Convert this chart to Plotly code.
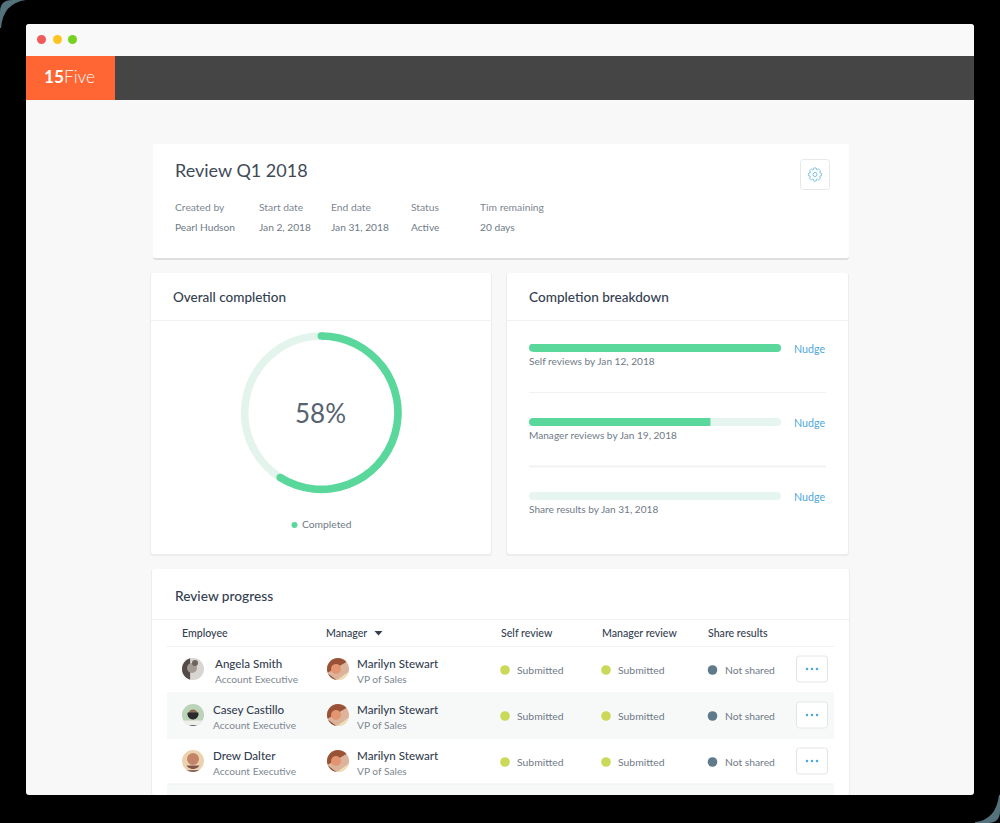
#!/usr/bin/python3
''' 15Five review dashboard, one page of cards drawn with plotly
'''
import math
import plotly.graph_objects as go

FONT = 'Lato'
INK = '#34404f'
GREY = '#6f7a86'
GREEN = '#5ad79b'
PALE = '#e6f5ef'
LIME = '#cbd958'
SLATE = '#5f7a8a'
BLUE = '#4fa8dc'

# Data
overall_label = '58%'
overall_done = 59
overall_rest = 41
breakdown_labels = ['Self reviews by Jan 12, 2018', 'Manager reviews by Jan 19, 2018', 'Share results by Jan 31, 2018']
breakdown_values = [100, 72, 0]
meta_labels = ['Created by', 'Start date', 'End date', 'Status', 'Tim remaining']
meta_values = ['Pearl Hudson', 'Jan 2, 2018', 'Jan 31, 2018', 'Active', '20 days']
table_headers = ['Employee', 'Manager', 'Self review', 'Manager review', 'Share results']
employees = ['Angela Smith', 'Casey Castillo', 'Drew Dalter']
employee_titles = ['Account Executive', 'Account Executive', 'Account Executive']
managers = ['Marilyn Stewart', 'Marilyn Stewart', 'Marilyn Stewart']
manager_titles = ['VP of Sales', 'VP of Sales', 'VP of Sales']
self_status = ['Submitted', 'Submitted', 'Submitted']
manager_status = ['Submitted', 'Submitted', 'Submitted']
share_status = ['Not shared', 'Not shared', 'Not shared']

# Layout of the page, in pixels
W, H = 1000, 823
RING = (321.3, 412.7, 80.5)
META_X = [175, 259, 331, 411, 480]
HEADER_X = [182, 326, 501, 602, 708]
ROW_Y = [669, 715, 761]
NAME_X = [215, 213, 213]
STATUS_X = [505, 606, 712.5]
BAR_Y = [347.8, 422, 496.1]

shapes = []
notes = []


def rect(x0, y0, x1, y1, fill, layer='below'):
    shapes.append(dict(type='rect', xref='x', yref='y', x0=x0, y0=y0, x1=x1, y1=y1,
                       fillcolor=fill, line_width=0, layer=layer))


def line(x0, y0, x1, y1, color='#eff1f2', width=1):
    shapes.append(dict(type='line', xref='x', yref='y', x0=x0, y0=y0, x1=x1, y1=y1,
                       line=dict(color=color, width=width), layer='below'))


def circle(cx, cy, r, fill, layer='below'):
    shapes.append(dict(type='circle', xref='x', yref='y', x0=cx-r, y0=cy-r, x1=cx+r, y1=cy+r,
                       fillcolor=fill, line_width=0, layer=layer))


def path(d, fill, outline=None, layer='below'):
    shapes.append(dict(type='path', xref='x', yref='y', path=d, fillcolor=fill,
                       line=dict(color=outline or fill, width=1 if outline else 0), layer=layer))


def rounded(x0, y0, x1, y1, r):
    return (f'M{x0+r},{y0} L{x1-r},{y0} Q{x1},{y0} {x1},{y0+r} L{x1},{y1-r} Q{x1},{y1} {x1-r},{y1} '
            f'L{x0+r},{y1} Q{x0},{y1} {x0},{y1-r} L{x0},{y0+r} Q{x0},{y0} {x0+r},{y0} Z')


def label(x, y, text, size=10, color=GREY, weight=400, anchor='left'):
    # the browser puts glyphs about a pixel right and low of the anchor
    notes.append(dict(x=x-1, y=y-0.8, xref='x', yref='y', text=text, showarrow=False, xanchor=anchor, yanchor='middle',
                      align=anchor, borderpad=0, font=dict(family=FONT, size=size, color=color, weight=weight)))


def card(x0, y0, x1, y1):
    path(rounded(x0-1, y0, x1+1, y1+2, 3), '#ececec')
    path(rounded(x0, y0, x1, y1, 2), '#ffffff')


def segment(cx, cy, r, a0, a1, fill):
    # chord segment of an avatar circle, angles in degrees clockwise from top
    pts = []
    for i in range(13):
        a = math.radians(a0 + (a1-a0)*i/12)
        pts.append(f'{cx+r*math.sin(a):.2f},{cy-r*math.cos(a):.2f}')
    path('M' + ' L'.join(pts) + ' Z', fill)


def avatar(cx, cy, kind):
    if kind == 'angela':
        circle(cx, cy, 11, '#d8d5d3')
        segment(cx, cy, 11, 195, 345, '#544a46')
        circle(cx-1, cy-1, 5, '#a59b95')
        circle(cx+2, cy-6, 3, '#6e635d')
    elif kind == 'casey':
        circle(cx, cy, 11, '#bcd3b8')
        segment(cx, cy, 11, 120, 240, '#eeeeea')
        circle(cx, cy-1, 4.5, '#8a6a54')
        segment(cx, cy-1, 5.5, 285, 75, '#2a2a2c')
        segment(cx, cy, 11, 160, 200, '#33383c')
    elif kind == 'drew':
        circle(cx, cy, 11, '#ebd3b2')
        circle(cx, cy-2, 6, '#c58468')
        segment(cx, cy, 8, 125, 235, '#84544a')
        segment(cx, cy, 11, 145, 215, '#8f6a60')
    else:
        circle(cx, cy, 11, '#dcb49c')
        segment(cx, cy, 11, 250, 410, '#9a5236')
        circle(cx-2, cy, 5, '#e39470')
        segment(cx, cy, 11, 105, 185, '#efe0b6')
        segment(cx, cy, 11, 190, 245, '#8a4a32')


def gear(cx, cy):
    pts = []
    for i in range(64):
        a = 2*math.pi*i/64
        r = 6.6 if math.cos(8*a) > -0.1 else 5.2
        pts.append(f'{cx+r*math.sin(a):.2f},{cy-r*math.cos(a):.2f}')
    shapes.append(dict(type='path', xref='x', yref='y', path='M' + ' L'.join(pts) + ' Z', fillcolor='rgba(0,0,0,0)',
                       line=dict(color='#7cc0e6', width=1), layer='below'))
    shapes.append(dict(type='circle', xref='x', yref='y', x0=cx-2, y0=cy-2, x1=cx+2, y1=cy+2,
                       fillcolor='rgba(0,0,0,0)', line=dict(color='#7cc0e6', width=1), layer='below'))


# Browser window
path(rounded(26, 24, 974, 795, 3), '#f8f8f8')
path('M26,56 L26,28 Q26,24 30,24 L970,24 Q974,24 974,28 L974,56 Z', '#f9f9f9')
rect(26, 56, 974, 100, '#454545')
rect(26, 56, 115, 100, '#ff6633')
circle(41.5, 39.5, 4.5, '#f05a5a')
circle(57.5, 39.5, 4.5, '#fdc521')
circle(72.5, 39.5, 4.5, '#76d21e')
label(44, 77.5, '<b>15</b>Five', 17.3, '#ffffff', 300)

# Review card
path(rounded(153, 144, 849, 260, 3), '#dedede')
path(rounded(153, 144, 849, 258, 2), '#ffffff')
label(175, 171, 'Review Q1 2018', 18, '#3f4a58')
for x, name, value in zip(META_X, meta_labels, meta_values):
    label(x, 208, name, 10.3, '#7d8791')
    label(x, 227.5, value, 10.2, GREY)
path(rounded(800.5, 159.5, 829.5, 189.5, 3), '#ffffff', '#e6e9ea')
gear(815, 174.5)

# Completion cards
card(151, 273, 491, 554)
card(507, 273, 848, 554)
line(151, 320.5, 491, 320.5)
line(507, 320.5, 848, 320.5)
label(173, 297.5, 'Overall completion', 13.5, INK, 500)
label(529, 297.5, 'Completion breakdown', 13.6, INK, 500)
label(321, 414, overall_label, 26, '#56626f', 400, 'center')
label(302, 525, 'Completed', 10.3, GREY)
line(529, 392.5, 826, 392.5)
line(529, 466.5, 826, 466.5, '#f1f2f3', 2)
for y, text in zip([362, 436, 510], breakdown_labels):
    label(529, y, text, 10.1, GREY)
for y in [349, 423, 497]:
    label(794, y, 'Nudge', 10.7, BLUE)

# Round ends of the ring
for frac in [0, overall_done/(overall_done+overall_rest)]:
    a = 2*math.pi*frac
    circle(RING[0]+76.8*math.sin(a), RING[1]-76.8*math.cos(a), 3.7, GREEN, 'above')

# Plotly only rounds the far end of a bar, so trim the near corners
for y in BAR_Y:
    path(f'M528.5,{y-4.5} L533,{y-4.5} L533,{y-4} Q529,{y-4} 529,{y} Q529,{y+4} 533,{y+4} L533,{y+4.5} L528.5,{y+4.5} Z',
         '#ffffff', layer='above')

# Review table
card(152, 569, 849, 795)
line(152, 619.5, 849, 619.5)
line(167, 646.5, 834, 646.5)
label(175, 596, 'Review progress', 13.7, INK, 500)
for x, text in zip(HEADER_X, table_headers):
    label(x, 634, text, 10.6, INK, 500)
path('M374.5,631 L382.5,631 L378.5,635.5 Z', '#34404f')
rect(167, 692, 834, 739, '#f7f9f9')
rect(167, 784, 834, 795, '#f7f9f9')
line(167, 784, 834, 784)
for i, y in enumerate(ROW_Y):
    avatar(193, y, ['angela', 'casey', 'drew'][i])
    avatar(338, y, 'marilyn')
    label(NAME_X[i], y-5, employees[i], 11.6, INK, 500)
    label(NAME_X[i], y+11, employee_titles[i], 10.2, '#7d8791')
    label(357, y-5, managers[i], 11.6, INK, 500)
    label(357, y+11, manager_titles[i], 10.2, '#7d8791')
    label(517, y+1.5, self_status[i], 10.4, GREY)
    label(618, y+1.5, manager_status[i], 10.4, GREY)
    label(724.5, y+1.5, share_status[i], 10.3, GREY)
    path(rounded(796.5, y-13, 827.5, y+13, 3), '#ffffff', '#e3e6e9')
    for dx in [-5, 0, 5]:
        circle(812+dx, y, 1.3, BLUE)

# Backdrop below the window and the two teal corners
rect(0, 795, 1000, 823, '#000000')
path('M1,28 Q3,3 26,0 L12,0 Q0,0 0,12 L0,28 Z', '#54727b')
path('M999,795 Q996,820 975,822 L975,823 L988,823 Q1000,823 1000,811 L1000,795 Z', '#54727b')

fig = go.Figure()

# Ring
fig.add_trace(go.Pie(
    values=[overall_done, overall_rest],
    hole=0.905,
    sort=False,
    direction='clockwise',
    rotation=0,
    textinfo='none',
    hoverinfo='skip',
    showlegend=False,
    marker=dict(colors=[GREEN, '#e3f4ec'], line=dict(width=0)),
    domain=dict(x=[(RING[0]-RING[2])/W, (RING[0]+RING[2])/W],
                y=[1-(RING[1]+RING[2])/H, 1-(RING[1]-RING[2])/H]),
))

# Legend dot and status dots
fig.add_trace(go.Scatter(x=[294.5], y=[525], mode='markers', hoverinfo='skip', showlegend=False,
                         marker=dict(color=GREEN, size=6)))
for x, status in zip(STATUS_X, [self_status, manager_status, share_status]):
    fig.add_trace(go.Scatter(
        x=[x]*len(status), y=[y+1 for y in ROW_Y], mode='markers', hoverinfo='skip', showlegend=False,
        marker=dict(color=[LIME if s == 'Submitted' else SLATE for s in status], size=9.6),
    ))

# Breakdown bars, tracks first
fig.add_trace(go.Bar(
    y=breakdown_labels, x=[100]*3, orientation='h', xaxis='x2', yaxis='y2', width=0.108,
    marker=dict(color=PALE, line_width=0), hoverinfo='skip', showlegend=False,
))
fig.add_trace(go.Bar(
    y=breakdown_labels, x=breakdown_values, orientation='h', xaxis='x2', yaxis='y2', width=0.108,
    marker=dict(color=GREEN, line_width=0), hoverinfo='skip', showlegend=False,
))

hidden = dict(visible=False, fixedrange=True, showgrid=False, zeroline=False)
fig.update_layout(
    width=W, height=H, margin=dict(l=0, r=0, t=0, b=0, autoexpand=False),
    paper_bgcolor='#000000', plot_bgcolor='rgba(0,0,0,0)',
    barmode='overlay', barcornerradius=4,
    xaxis=dict(range=[0, W], domain=[0, 1], **hidden),
    yaxis=dict(range=[H, 0], domain=[0, 1], **hidden),
    xaxis2=dict(range=[0, 100], domain=[529/W, 781/W], anchor='y2', **hidden),
    yaxis2=dict(range=[2.5, -0.5], type='category', categoryorder='array', categoryarray=breakdown_labels,
                domain=[1-533/H, 1-311/H], anchor='x2', **hidden),
    shapes=shapes, annotations=notes,
)

fig.write_html('out.html', config=dict(displayModeBar=False),
               post_script="document.body.style.margin='0';document.body.style.background='#000';document.body.style.overflow='hidden';")
